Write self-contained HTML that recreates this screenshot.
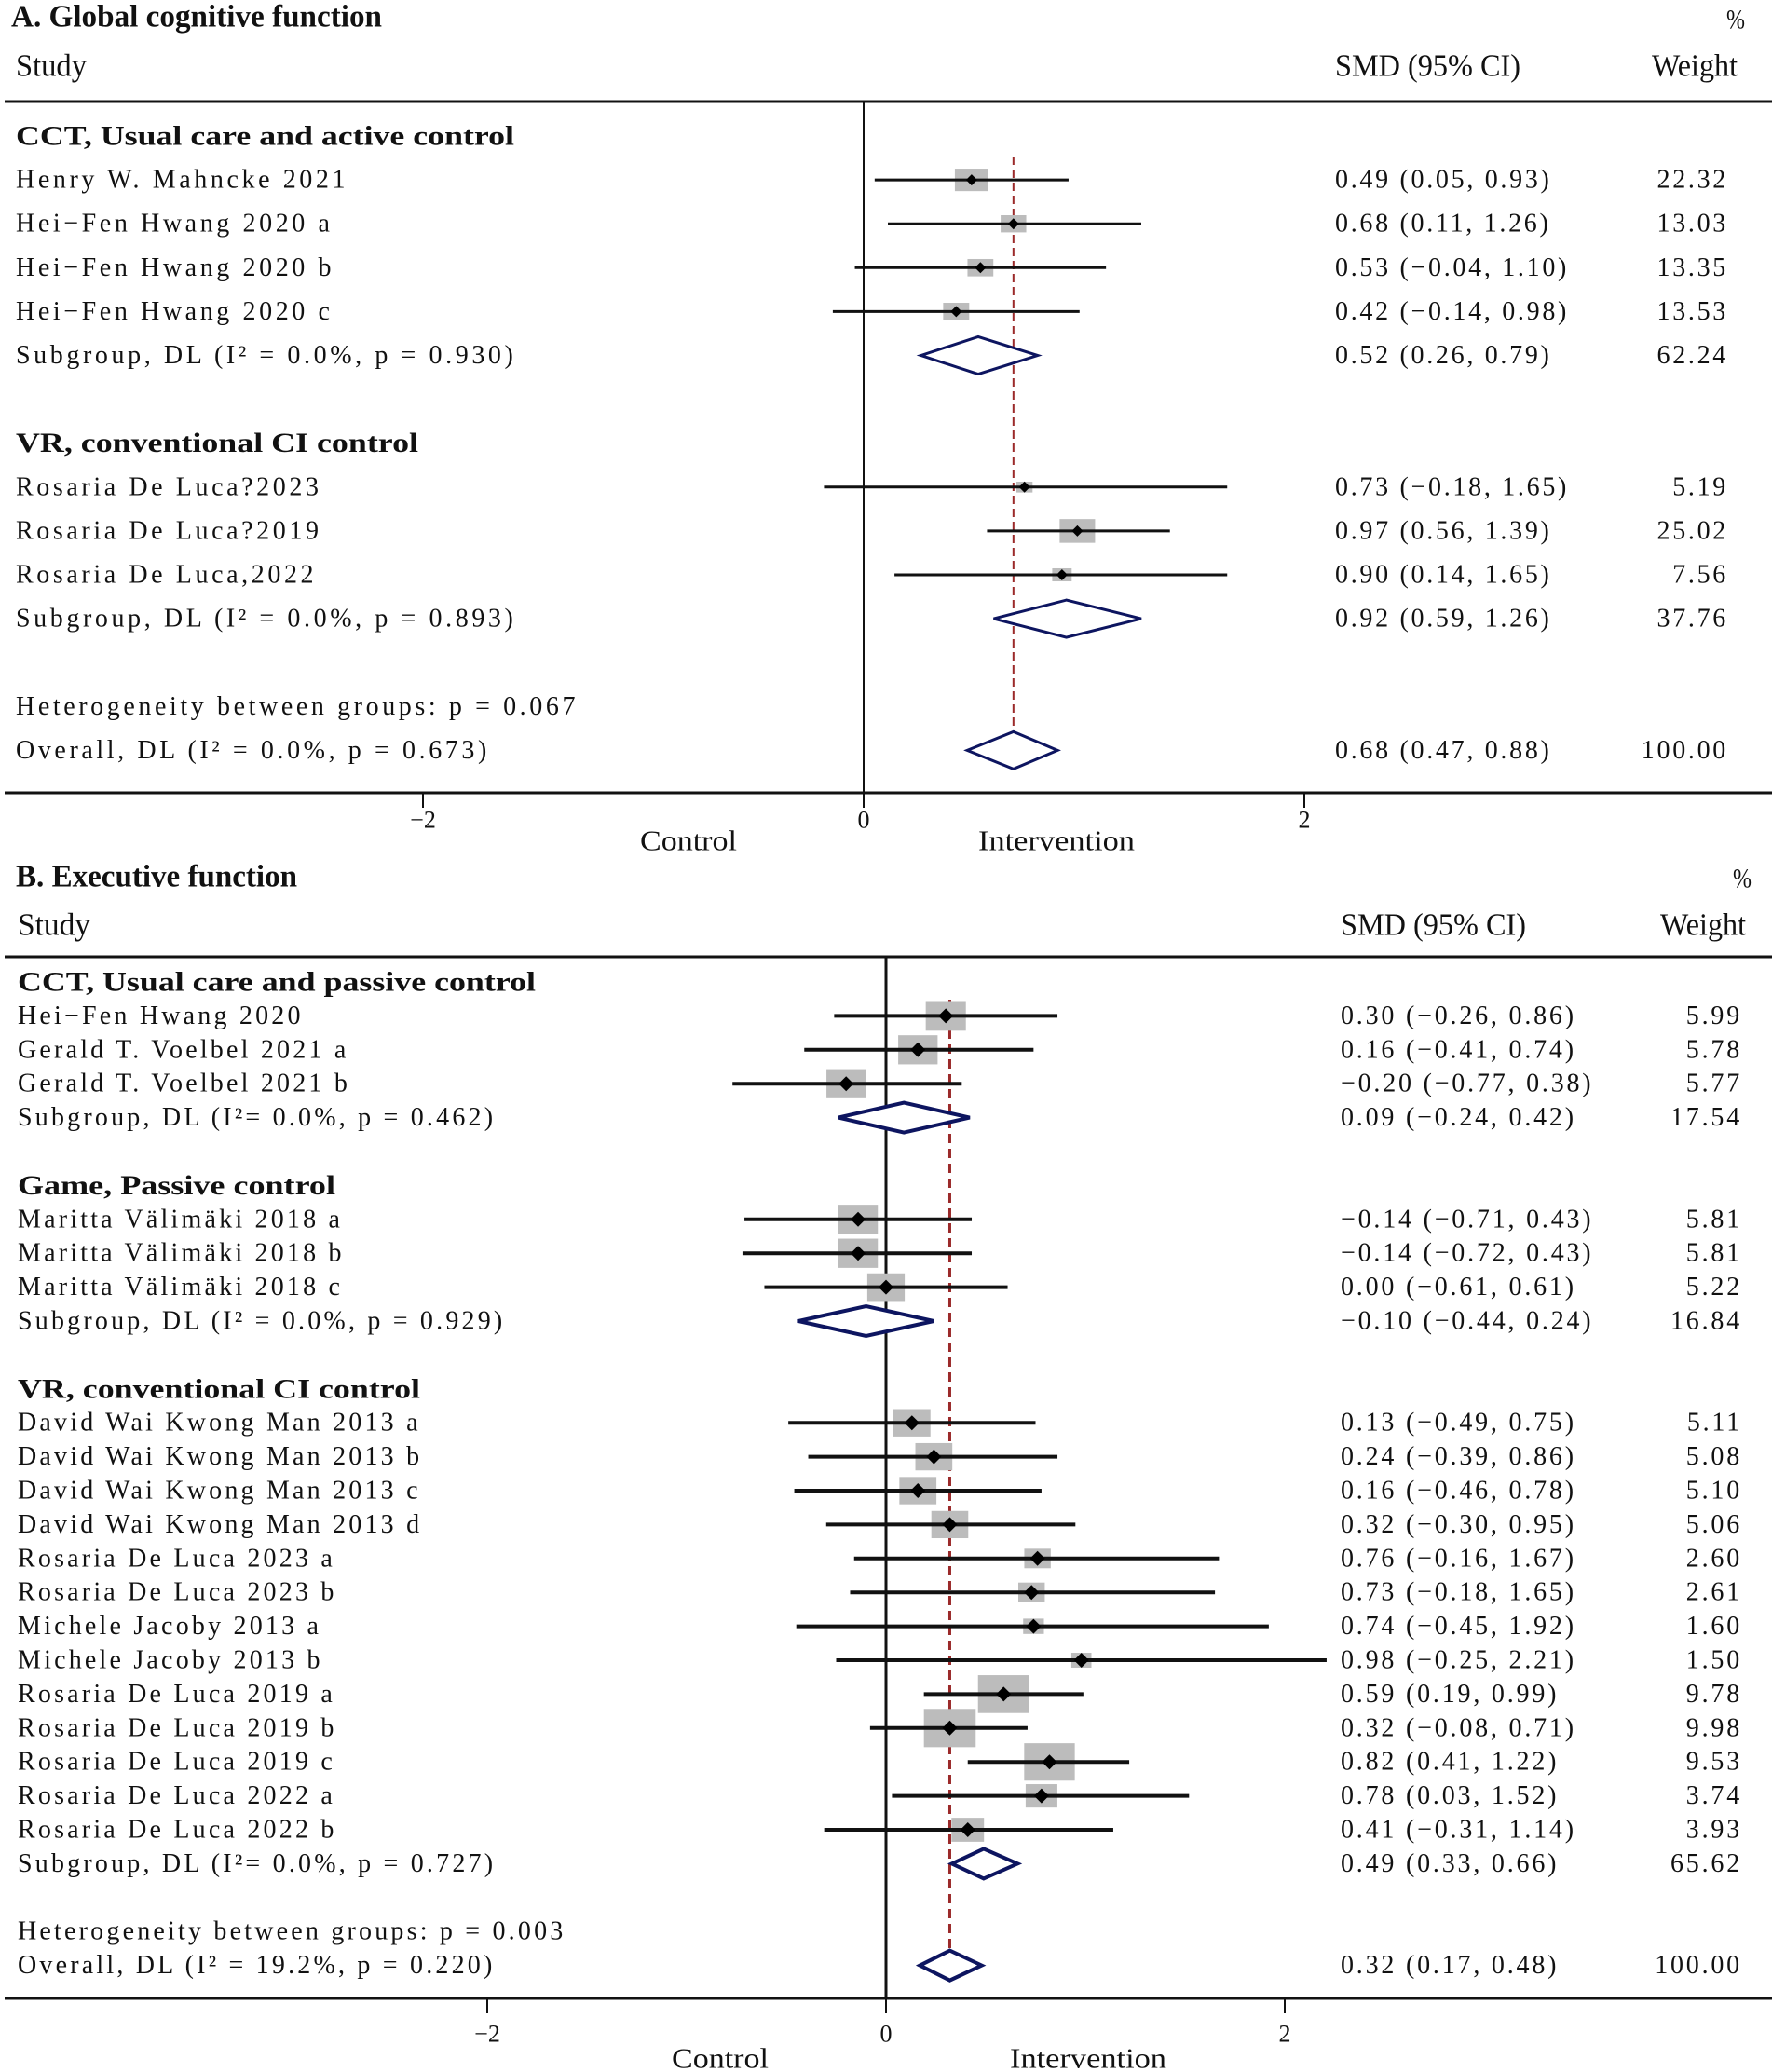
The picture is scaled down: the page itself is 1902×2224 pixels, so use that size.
<!DOCTYPE html>
<html><head><meta charset="utf-8"><style>
html,body{margin:0;padding:0;background:#fff;}
svg{display:block;}
text{font-family:"Liberation Serif","DejaVu Serif",serif;fill:#111;}
</style></head><body>
<svg id="chart" width="1902" height="2224" viewBox="0 0 1902 2224" xmlns="http://www.w3.org/2000/svg"></svg>
<script>
// ---------- Panel A data ----------
const aLabels = ["Henry W. Mahncke 2021","Hei\u2212Fen Hwang 2020 a","Hei\u2212Fen Hwang 2020 b","Hei\u2212Fen Hwang 2020 c","Subgroup, DL (I\u00b2 = 0.0%, p = 0.930)","Rosaria De Luca?2023","Rosaria De Luca?2019","Rosaria De Luca,2022","Subgroup, DL (I\u00b2  = 0.0%, p = 0.893)","Overall, DL (I\u00b2  = 0.0%, p = 0.673)"];
const aKinds = ["study","study","study","study","sub","study","study","study","sub","sub"];
const aSlots = [1,2,3,4,5,8,9,10,11,14];
const aEst = [0.49,0.68,0.53,0.42,0.52,0.73,0.97,0.90,0.92,0.68];
const aLo = [0.05,0.11,-0.04,-0.14,0.26,-0.18,0.56,0.14,0.59,0.47];
const aHi = [0.93,1.26,1.10,0.98,0.79,1.65,1.39,1.65,1.26,0.88];
const aWeight = [22.32,13.03,13.35,13.53,62.24,5.19,25.02,7.56,37.76,100.00];
const aCI = ["0.49 (0.05, 0.93)","0.68 (0.11, 1.26)","0.53 (\u22120.04, 1.10)","0.42 (\u22120.14, 0.98)","0.52 (0.26, 0.79)","0.73 (\u22120.18, 1.65)","0.97 (0.56, 1.39)","0.90 (0.14, 1.65)","0.92 (0.59, 1.26)","0.68 (0.47, 0.88)"];
const aWeightLabels = ["22.32","13.03","13.35","13.53","62.24","5.19","25.02","7.56","37.76","100.00"];
const aGroups = ["CCT, Usual care and active control","VR, conventional CI control"];
const aGroupSlots = [0,7];
const aGroupWidths = [535,432];
const aHetText = "Heterogeneity between groups: p = 0.067";
const aHetSlot = 13;
const aOverall = 0.68;
const aTicks = [-2,0,2];
const aTickLabels = ["\u22122","0","2"];

// ---------- Panel B data ----------
const bLabels = ["Hei\u2212Fen Hwang 2020","Gerald T. Voelbel 2021 a","Gerald T. Voelbel 2021 b","Subgroup, DL (I\u00b2= 0.0%, p = 0.462)","Maritta V\u00e4lim\u00e4ki 2018 a","Maritta V\u00e4lim\u00e4ki 2018 b","Maritta V\u00e4lim\u00e4ki 2018 c","Subgroup, DL (I\u00b2 = 0.0%, p = 0.929)","David Wai Kwong Man 2013 a","David Wai Kwong Man 2013 b","David Wai Kwong Man 2013 c","David Wai Kwong Man 2013 d","Rosaria De Luca 2023 a","Rosaria De Luca 2023 b","Michele Jacoby 2013 a","Michele Jacoby 2013 b","Rosaria De Luca 2019 a","Rosaria De Luca 2019 b","Rosaria De Luca 2019 c","Rosaria De Luca 2022 a","Rosaria De Luca 2022 b","Subgroup, DL (I\u00b2= 0.0%, p = 0.727)","Overall, DL (I\u00b2 = 19.2%, p = 0.220)"];
const bKinds = ["study","study","study","sub","study","study","study","sub","study","study","study","study","study","study","study","study","study","study","study","study","study","sub","sub"];
const bSlots = [1,2,3,4,7,8,9,10,13,14,15,16,17,18,19,20,21,22,23,24,25,26,29];
const bEst = [0.30,0.16,-0.20,0.09,-0.14,-0.14,0.00,-0.10,0.13,0.24,0.16,0.32,0.76,0.73,0.74,0.98,0.59,0.32,0.82,0.78,0.41,0.49,0.32];
const bLo = [-0.26,-0.41,-0.77,-0.24,-0.71,-0.72,-0.61,-0.44,-0.49,-0.39,-0.46,-0.30,-0.16,-0.18,-0.45,-0.25,0.19,-0.08,0.41,0.03,-0.31,0.33,0.17];
const bHi = [0.86,0.74,0.38,0.42,0.43,0.43,0.61,0.24,0.75,0.86,0.78,0.95,1.67,1.65,1.92,2.21,0.99,0.71,1.22,1.52,1.14,0.66,0.48];
const bWeight = [5.99,5.78,5.77,17.54,5.81,5.81,5.22,16.84,5.11,5.08,5.10,5.06,2.60,2.61,1.60,1.50,9.78,9.98,9.53,3.74,3.93,65.62,100.00];
const bCI = ["0.30 (\u22120.26, 0.86)","0.16 (\u22120.41, 0.74)","\u22120.20 (\u22120.77, 0.38)","0.09 (\u22120.24, 0.42)","\u22120.14 (\u22120.71, 0.43)","\u22120.14 (\u22120.72, 0.43)","0.00 (\u22120.61, 0.61)","\u22120.10 (\u22120.44, 0.24)","0.13 (\u22120.49, 0.75)","0.24 (\u22120.39, 0.86)","0.16 (\u22120.46, 0.78)","0.32 (\u22120.30, 0.95)","0.76 (\u22120.16, 1.67)","0.73 (\u22120.18, 1.65)","0.74 (\u22120.45, 1.92)","0.98 (\u22120.25, 2.21)","0.59 (0.19, 0.99)","0.32 (\u22120.08, 0.71)","0.82 (0.41, 1.22)","0.78 (0.03, 1.52)","0.41 (\u22120.31, 1.14)","0.49 (0.33, 0.66)","0.32 (0.17, 0.48)"];
const bWeightLabels = ["5.99","5.78","5.77","17.54","5.81","5.81","5.22","16.84","5.11","5.08","5.10","5.06","2.60","2.61","1.60","1.50","9.78","9.98","9.53","3.74","3.93","65.62","100.00"];
const bGroups = ["CCT, Usual care and passive control","Game, Passive control","VR, conventional CI control"];
const bGroupSlots = [0,6,12];
const bGroupWidths = [556,341,432];
const bHetText = "Heterogeneity between groups: p = 0.003";
const bHetSlot = 28;
const bOverall = 0.32;
const bTicks = [-2,0,2];
const bTickLabels = ["\u22122","0","2"];

const NS = "http://www.w3.org/2000/svg";
const svg = document.getElementById('chart');
function mk(tag, attrs, parent){
  const e = document.createElementNS(NS, tag);
  for (const k in attrs) e.setAttribute(k, attrs[k]);
  (parent||svg).appendChild(e);
  return e;
}
function txt(parent, x, y, s, attrs){
  const t = mk('text', Object.assign({x:x, y:y, 'dominant-baseline':'central'}, attrs||{}), parent);
  t.textContent = s;
  return t;
}

function drawPanel(P){
  const g = mk('g', {});
  
  
  const X = v => P.x0 + v * P.unit;
  const Y = s => P.y0 + s * P.step;

  let t = txt(g, P.titleX, P.titleY, P.title, {'font-size':34,'font-weight':'bold',textLength:P.titleW,lengthAdjust:'spacingAndGlyphs'});
  
  
  t = txt(g, P.pctX, P.pctY, '%', {'font-size':30,'text-anchor':'end',textLength:20,lengthAdjust:'spacingAndGlyphs'});
  
  
  t = txt(g, P.labelX, P.headY, 'Study', {'font-size':34,textLength:P.studyW,lengthAdjust:'spacingAndGlyphs'});
  
  
  t = txt(g, P.ciX, P.headY, 'SMD (95% CI)', {'font-size':34,textLength:199,lengthAdjust:'spacingAndGlyphs'});
  
  
  t = txt(g, P.wHeadR, P.headY, 'Weight', {'font-size':34,'text-anchor':'end',textLength:92,lengthAdjust:'spacingAndGlyphs'});
  
  

  let r = mk('line', {x1:5,x2:1902,y1:P.topY,y2:P.topY,stroke:'#111','stroke-width':3}, g);
  
  
  r = mk('line', {x1:5,x2:1902,y1:P.botY,y2:P.botY,stroke:'#111','stroke-width':3}, g);
  
  
  r = mk('line', {x1:X(0),x2:X(0),y1:P.topY,y2:P.botY,stroke:'#111','stroke-width':P.zeroW}, g);
  
  

  P.ticks.forEach((v,i)=>{
    const tk = mk('line', {x1:X(v),x2:X(v),y1:P.botY,y2:P.botY+16,stroke:'#111','stroke-width':2}, g);
    
    
    const tl = txt(g, X(v), P.tickY, P.tickLabels[i], {'font-size':26,'text-anchor':'middle'});
    
    
  });
  t = txt(g, P.ctrlX, P.axTitleY, 'Control', {'font-size':31,'text-anchor':'middle',textLength:104,lengthAdjust:'spacingAndGlyphs'});
  
  
  t = txt(g, P.intX, P.axTitleY, 'Intervention', {'font-size':31,'text-anchor':'middle',textLength:168,lengthAdjust:'spacingAndGlyphs'});
  
  

  P.groups.forEach((s,i)=>{
    const gh = txt(g, P.labelX, Y(P.groupSlots[i]), s, {'font-size':P.groupFont,'font-weight':'bold',textLength:P.groupWidths[i],lengthAdjust:'spacingAndGlyphs'});
    
    
  });
  const het = txt(g, P.labelX, Y(P.hetSlot), P.hetText, {'font-size':P.rowFont,'letter-spacing':P.labelLS});
  
  

  const dl = mk('line', {x1:X(P.overall),x2:X(P.overall),y1:P.dashTop,y2:P.dashBot,stroke:'#9b2a2a','stroke-width':P.dashW,'stroke-dasharray':P.dash}, g);
  
  

  P.labels.forEach((lab,i)=>{
    const y = Y(P.slots[i]);
    const lt = txt(g, P.labelX, y, lab, {'font-size':P.rowFont,'letter-spacing':P.labelLS});
    
    
    const ct = txt(g, P.ciX, y, P.ci[i], {'font-size':P.numFont,'letter-spacing':P.numLS});
    
    
    const wt = txt(g, P.wRight, y, P.wLabels[i], {'font-size':P.numFont,'letter-spacing':P.numLS,'text-anchor':'end'});
    
    
    if (P.kinds[i] === 'study'){
      const bw = P.boxW * Math.sqrt(P.weight[i]), bh = P.boxH * Math.sqrt(P.weight[i]);
      const box = mk('rect', {x:X(P.est[i])-bw/2, y:y-bh/2, width:bw, height:bh, fill:'#bcbcbc'}, g);
      
      
      const ci = mk('line', {x1:X(P.lo[i]),x2:X(P.hi[i]),y1:y,y2:y,stroke:'#111','stroke-width':P.ciW}, g);
      
      
      const m = P.mark, cx = X(P.est[i]);
      const pt = mk('polygon', {points:`${cx-m},${y} ${cx},${y-m} ${cx+m},${y} ${cx},${y+m}`, fill:'#000'}, g);
      
      
    } else {
      const h = P.diaH/2, cx = X(P.est[i]);
      const d = mk('polygon', {points:`${X(P.lo[i])},${y} ${cx},${y-h} ${X(P.hi[i])},${y} ${cx},${y+h}`, fill:'#fff', stroke:'#0d1560','stroke-width':P.diaW}, g);
      
      
    }
  });
}

drawPanel({
  name:'panel-a-global-cognitive', x0:927, unit:236.5, y0:146, step:47.1,
  title:'A. Global cognitive function', titleX:12, titleY:18, titleW:398,
  pctX:1873, pctY:21, headY:71, studyW:76, labelX:17, ciX:1433, wHeadR:1865, wRight:1855,
  topY:109, botY:851, zeroW:2, tickY:880, axTitleY:902, ctrlX:739, intX:1134,
  ticks:aTicks, tickLabels:aTickLabels,
  groups:aGroups, groupSlots:aGroupSlots, groupWidths:aGroupWidths, groupFont:30,
  hetText:aHetText, hetSlot:aHetSlot, overall:aOverall, dashTop:168, dashBot:822, dashW:2, dash:'9,5',
  labels:aLabels, kinds:aKinds, slots:aSlots, est:aEst, lo:aLo, hi:aHi, weight:aWeight, ci:aCI, wLabels:aWeightLabels,
  rowFont:28, labelLS:3.6, numFont:28, numLS:2.7, boxW:7.6, boxH:5.1, ciW:3, mark:6, diaH:40, diaW:3
});
drawPanel({
  name:'panel-b-executive-function', x0:951, unit:214, y0:1054, step:36.4,
  title:'B. Executive function', titleX:17, titleY:941, titleW:302,
  pctX:1880, pctY:943, headY:993, studyW:78, labelX:19, ciX:1439, wHeadR:1874, wRight:1870,
  topY:1027, botY:2145, zeroW:3, tickY:2183, axTitleY:2209, ctrlX:773, intX:1168,
  ticks:bTicks, tickLabels:bTickLabels,
  groups:bGroups, groupSlots:bGroupSlots, groupWidths:bGroupWidths, groupFont:30,
  hetText:bHetText, hetSlot:bHetSlot, overall:bOverall, dashTop:1073, dashBot:2117, dashW:3, dash:'10,6',
  labels:bLabels, kinds:bKinds, slots:bSlots, est:bEst, lo:bLo, hi:bHi, weight:bWeight, ci:bCI, wLabels:bWeightLabels,
  rowFont:28, labelLS:3.2, numFont:28, numLS:2.8, boxW:17.6, boxH:13, ciW:4, mark:8, diaH:32, diaW:4
});
</script>
</body></html>
